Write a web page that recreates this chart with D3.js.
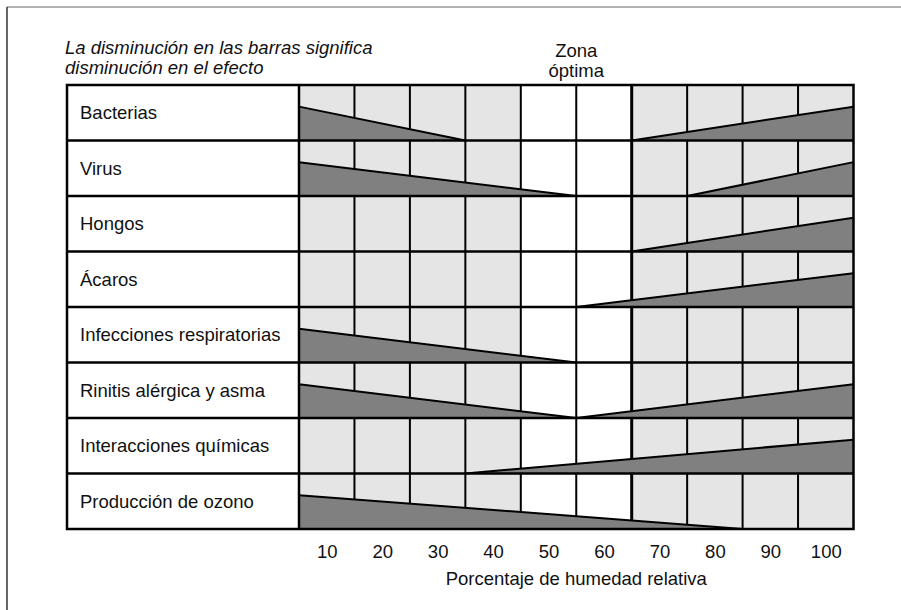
<!DOCTYPE html>
<html>
<head>
<meta charset="utf-8">
<script src="https://cdn.jsdelivr.net/npm/d3@7/dist/d3.min.js"></script>
<style>
  html, body { margin: 0; padding: 0; background: #fff; }
  svg { display: block; font-family: "Liberation Sans", Arial, Helvetica, sans-serif; }
</style>
</head>
<body>
<svg id="chart" width="901" height="610"></svg>
<script>
// ---- data ----
const categories = ["Bacterias", "Virus", "Hongos", "Ácaros", "Infecciones respiratorias",
  "Rinitis alérgica y asma", "Interacciones químicas", "Producción de ozono"];
const humidityTicks = [10, 20, 30, 40, 50, 60, 70, 80, 90, 100];
const optimalZone = [50, 60];
// humidity where the decreasing effect (from 5 %) reaches zero; null = none
const decreasingEnd = [35, 55, null, null, 55, 55, null, 85];
// humidity where the increasing effect (to 105 %) starts; null = none
const increasingStart = [65, 75, 65, 55, null, 55, 35, null];
const titleLines = ["La disminución en las barras significa", "disminución en el efecto"];
const zoneLines = ["Zona", "óptima"];
const xTitle = "Porcentaje de humedad relativa";

// ---- layout ----
const FS = 18.5;
const svg = d3.select("#chart");
const x = d3.scaleLinear().domain([5, 105]).range([299, 853.5]);
const y = d3.scaleBand().domain(categories).range([85, 529]);
const labelLeft = 67;
const bw = y.bandwidth();
const effect = d3.scaleLinear().domain([0, 1]).range([0, bw * 0.61]);

// outer frame
svg.append("line").attr("x1", 7).attr("x2", 901).attr("y1", 7).attr("y2", 7)
  .attr("stroke", "#999").attr("stroke-width", 1.5);
svg.append("line").attr("x1", 7).attr("x2", 7).attr("y1", 7).attr("y2", 610)
  .attr("stroke", "#333").attr("stroke-width", 1.5);

// label column background
svg.append("rect").attr("x", labelLeft).attr("y", y.range()[0])
  .attr("width", x(5) - labelLeft).attr("height", y.range()[1] - y.range()[0]).attr("fill", "#fff");

// cells
const cells = [];
categories.forEach(c => humidityTicks.forEach(h => cells.push({ c, h })));
svg.append("g").selectAll("rect").data(cells).join("rect")
  .attr("x", d => x(d.h - 5)).attr("y", d => y(d.c))
  .attr("width", d => x(d.h + 5) - x(d.h - 5)).attr("height", bw)
  .attr("fill", d => (d.h >= optimalZone[0] && d.h <= optimalZone[1]) ? "#ffffff" : "#e5e5e5");

// column lines
const bounds = d3.range(15, 105, 10);
svg.append("g").selectAll("line").data(bounds).join("line")
  .attr("x1", d => x(d)).attr("x2", d => x(d))
  .attr("y1", y.range()[0]).attr("y2", y.range()[1])
  .attr("stroke", "#000")
  .attr("stroke-width", d => d === optimalZone[1] + 5 ? 3 : 2);

// wedges
const wg = svg.append("g");
categories.forEach((c, i) => {
  const bottom = y(c) + bw;
  if (decreasingEnd[i] != null) {
    const pts = [[x(5), bottom], [x(5), bottom - effect(1)], [x(decreasingEnd[i]), bottom]];
    wg.append("path").attr("d", d3.line()(pts) + "Z").attr("fill", "#808080");
    wg.append("line").attr("x1", pts[1][0]).attr("y1", pts[1][1])
      .attr("x2", pts[2][0]).attr("y2", pts[2][1])
      .attr("stroke", "#000").attr("stroke-width", 2);
  }
  if (increasingStart[i] != null) {
    const pts = [[x(increasingStart[i]), bottom], [x(105), bottom - effect(1)], [x(105), bottom]];
    wg.append("path").attr("d", d3.line()(pts) + "Z").attr("fill", "#808080");
    wg.append("line").attr("x1", pts[0][0]).attr("y1", pts[0][1])
      .attr("x2", pts[1][0]).attr("y2", pts[1][1])
      .attr("stroke", "#000").attr("stroke-width", 2);
  }
});

// row lines
svg.append("g").selectAll("line").data(categories.slice(1)).join("line")
  .attr("x1", labelLeft).attr("x2", x(105))
  .attr("y1", d => y(d)).attr("y2", d => y(d))
  .attr("stroke", "#000").attr("stroke-width", 2.5);

// label/data separator and outer border
svg.append("line").attr("x1", x(5)).attr("x2", x(5))
  .attr("y1", y.range()[0]).attr("y2", y.range()[1])
  .attr("stroke", "#000").attr("stroke-width", 2.5);
svg.append("rect").attr("x", labelLeft).attr("y", y.range()[0])
  .attr("width", x(105) - labelLeft).attr("height", y.range()[1] - y.range()[0])
  .attr("fill", "none").attr("stroke", "#000").attr("stroke-width", 2.5);

// row labels
svg.append("g").selectAll("text").data(categories).join("text")
  .attr("x", 80).attr("y", d => y(d) + bw / 2 + 6.5)
  .attr("font-size", FS).attr("fill", "#111").text(d => d);

// title
svg.append("g").selectAll("text").data(titleLines).join("text")
  .attr("x", 65).attr("y", (d, i) => 54 + i * 19.5)
  .attr("font-size", FS).attr("font-style", "italic").attr("fill", "#111").text(d => d);

// optimal zone label
svg.append("g").selectAll("text").data(zoneLines).join("text")
  .attr("x", x(d3.mean(optimalZone))).attr("y", (d, i) => 57 + i * 19.5)
  .attr("text-anchor", "middle").attr("font-size", FS).attr("fill", "#111").text(d => d);

// x axis
const axis = d3.axisBottom(x).tickValues(humidityTicks).tickSize(0).tickPadding(0);
const ag = svg.append("g").attr("transform", "translate(0,545)").call(axis);
ag.select(".domain").remove();
ag.selectAll("text").attr("font-size", FS).attr("fill", "#111")
  .attr("font-family", "Liberation Sans, Arial, sans-serif")
  .attr("dy", null).attr("y", 13);

svg.append("text").attr("x", x(55)).attr("y", 585).attr("text-anchor", "middle")
  .attr("font-size", FS).attr("fill", "#111").text(xTitle);
</script>
</body>
</html>
